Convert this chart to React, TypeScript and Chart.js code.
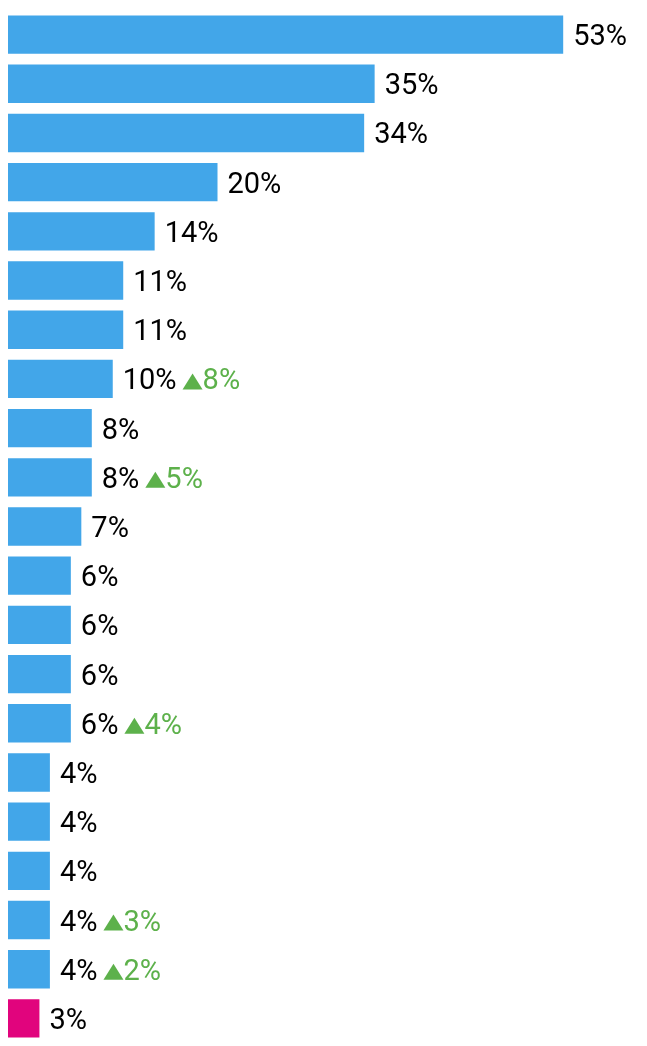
import React, { useEffect, useRef } from "react";
import { Chart, registerables } from "chart.js";

Chart.register(...registerables);

const categories = [
  "A", "B", "C", "D", "E", "F", "G", "H", "I", "J", "K",
  "L", "M", "N", "O", "P", "Q", "R", "S", "T", "U",
];
const values = [53, 35, 34, 20, 14, 11, 11, 10, 8, 8, 7, 6, 6, 6, 6, 4, 4, 4, 4, 4, 3];
const deltas: (number | null)[] = [
  null, null, null, null, null, null, null, 8, null, 5, null,
  null, null, null, 4, null, null, null, 3, 2, null,
];
const highlightIndex = 20;

const BLUE = "#42A6E9";
const PINK = "#E1047D";
const GREEN = "#5DB14B";
const FONT = "29px Roboto";

const labelPlugin = {
  id: "valueLabels",
  afterDatasetsDraw(chart: any) {
    const ctx = chart.ctx;
    const meta = chart.getDatasetMeta(0);
    ctx.save();
    ctx.font = FONT;
    ctx.textBaseline = "alphabetic";
    ctx.textAlign = "left";
    meta.data.forEach((el: any, i: number) => {
      const base = el.y + 10.5;
      let x = el.x + 10;
      const txt = values[i] + "%";
      ctx.fillStyle = "#000";
      ctx.fillText(txt, x, base);
      const d = deltas[i];
      if (d != null) {
        x += ctx.measureText(txt).width + 6;
        ctx.fillStyle = GREEN;
        ctx.beginPath();
        ctx.moveTo(x, base);
        ctx.lineTo(x + 20, base);
        ctx.lineTo(x + 10, base - 16);
        ctx.closePath();
        ctx.fill();
        ctx.fillText(d + "%", x + 20, base);
      }
    });
    ctx.restore();
  },
};

export default function App() {
  const ref = useRef<HTMLCanvasElement>(null);
  useEffect(() => {
    document.body.style.margin = "0";
    const chart = new Chart(ref.current!, {
      type: "bar",
      data: {
        labels: categories,
        datasets: [
          {
            data: values,
            backgroundColor: values.map((_, i) => (i === highlightIndex ? PINK : BLUE)),
            categoryPercentage: 1,
            barPercentage: 0.78,
            borderWidth: 0,
          },
        ],
      },
      options: {
        indexAxis: "y",
        animation: false,
        responsive: false,
        devicePixelRatio: 1,
        layout: { padding: { left: 8, right: 0, top: 10, bottom: 3 } },
        plugins: { legend: { display: false }, tooltip: { enabled: false } },
        scales: {
          x: { display: false, min: 0, max: 61 },
          y: { display: false },
        },
      },
      plugins: [labelPlugin],
    });
    return () => chart.destroy();
  }, []);
  return (
    <div style={{ width: 647, height: 1046, background: "#fff" }}>
      <canvas ref={ref} width={647} height={1046} />
    </div>
  );
}
